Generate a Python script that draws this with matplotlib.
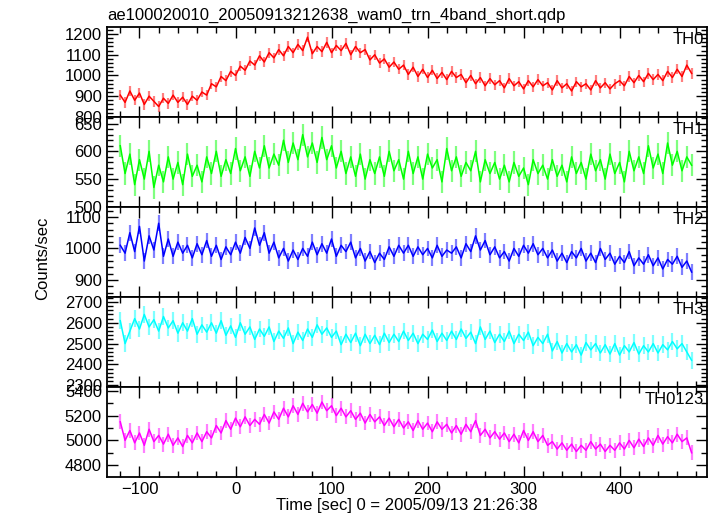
import numpy as np
import matplotlib
matplotlib.use("Agg")
import matplotlib.pyplot as plt
from matplotlib.ticker import MultipleLocator

plt.rcParams['font.family'] = ['Liberation Sans', 'DejaVu Sans']

title = "ae100020010_20050913212638_wam0_trn_4band_short.qdp"
xlabel = "Time [sec] 0 = 2005/09/13 21:26:38"
ylabel = "Counts/sec"

t_start = -120
t_step = 5

bands = ["TH0", "TH1", "TH2", "TH3", "TH0123"]
colors = ["#ff0000", "#00ff00", "#0000ff", "#00ffff", "#ff00ff"]
errors = [25, 20, 25, 40, 60]

th0 = [905, 870, 925, 880, 915, 860, 900, 875, 850, 890,
       865, 905, 870, 895, 860, 900, 880, 920, 905, 960,
       945, 995, 975, 1020, 1000, 1045, 1025, 1070, 1050, 1095,
       1065, 1110, 1085, 1125, 1095, 1140, 1110, 1150, 1120, 1185,
       1105, 1140, 1115, 1160, 1110, 1145, 1120, 1155, 1100, 1140,
       1110, 1125, 1075, 1100, 1060, 1080, 1040, 1065, 1030, 1050,
       1005, 1040, 995, 1030, 990, 1025, 985, 1015, 980, 1020,
       990, 1005, 965, 1000, 960, 990, 950, 985, 955, 975,
       940, 985, 950, 970, 935, 975, 945, 980, 950, 965,
       930, 975, 940, 960, 925, 970, 945, 960, 930, 975,
       940, 965, 935, 960, 975, 950, 995, 965, 1000, 970,
       1010, 980, 1005, 975, 1020, 990, 1030, 995, 1050, 1010]

th1 = [610, 560, 595, 540, 585, 550, 600, 535, 575, 545,
       590, 550, 580, 540, 595, 555, 575, 545, 590, 560,
       600, 555, 585, 560, 605, 565, 590, 555, 600, 570,
       610, 570, 595, 575, 620, 580, 615, 585, 630, 590,
       615, 580, 625, 585, 610, 570, 600, 560, 590, 555,
       595, 550, 585, 560, 590, 555, 600, 565, 585, 550,
       600, 560, 590, 550, 595, 570, 585, 545, 605, 565,
       590, 555, 580, 565, 600, 545, 585, 560, 580, 550,
       575, 545, 580, 555, 570, 540, 585, 560, 575, 550,
       585, 555, 575, 545, 590, 560, 580, 550, 595, 565,
       585, 550, 595, 560, 580, 545, 600, 565, 590, 560,
       610, 570, 595, 560, 615, 575, 600, 565, 590, 575]

th2 = [1010, 985, 1050, 990, 1070, 960, 1040, 995, 1080, 975,
       1030, 975, 1020, 985, 1010, 970, 1015, 980, 1025, 975,
       1010, 965, 1005, 980, 1020, 985, 1035, 1000, 1065, 1010,
       1050, 985, 1020, 970, 1000, 960, 995, 965, 1000, 975,
       1020, 980, 1015, 985, 1030, 975, 1010, 990, 1020, 970,
       1000, 960, 990, 955, 985, 965, 1005, 975, 1010, 985,
       1010, 975, 1005, 980, 1000, 970, 1010, 975, 995, 985,
       1005, 970, 1015, 990, 1040, 995, 1025, 980, 1005, 970,
       990, 960, 1000, 975, 1010, 985, 1015, 980, 1000, 970,
       995, 960, 985, 955, 990, 970, 1000, 960, 985, 955,
       1000, 965, 985, 950, 975, 955, 990, 945, 970, 950,
       980, 945, 970, 935, 965, 950, 975, 940, 960, 925]

th3 = [2610, 2500, 2560, 2620, 2570, 2640, 2580, 2615, 2560, 2630,
       2575, 2610, 2550, 2600, 2560, 2620, 2545, 2590, 2555, 2600,
       2550, 2610, 2540, 2585, 2530, 2600, 2545, 2580, 2520, 2570,
       2535, 2580, 2510, 2560, 2525, 2575, 2500, 2555, 2515, 2570,
       2530, 2590, 2545, 2575, 2530, 2560, 2495, 2545, 2505, 2550,
       2490, 2545, 2500, 2540, 2495, 2550, 2505, 2545, 2510, 2560,
       2515, 2550, 2500, 2545, 2520, 2565, 2510, 2550, 2515, 2560,
       2520, 2570, 2525, 2555, 2500, 2580, 2520, 2560, 2505, 2545,
       2510, 2560, 2500, 2545, 2515, 2555, 2490, 2530, 2500, 2545,
       2465, 2510, 2455, 2500, 2460, 2495, 2445, 2505, 2470, 2500,
       2455, 2495, 2450, 2500, 2445, 2490, 2460, 2505, 2450, 2490,
       2460, 2500, 2455, 2495, 2470, 2510, 2475, 2500, 2460, 2420]

th0123 = [5150, 5000, 5080, 4980, 5060, 4960, 5090, 4990, 5040, 4970,
          5050, 4960, 5020, 4950, 5040, 4980, 5060, 4990, 5070, 5020,
          5120, 5060, 5160, 5090, 5180, 5110, 5190, 5120, 5170, 5130,
          5210, 5140, 5230, 5170, 5260, 5190, 5280, 5210, 5300, 5230,
          5290, 5220, 5310, 5240, 5280, 5200, 5260, 5190, 5240, 5170,
          5220, 5140, 5210, 5150, 5190, 5120, 5180, 5110, 5170, 5100,
          5150, 5080, 5160, 5090, 5140, 5070, 5150, 5090, 5130, 5060,
          5120, 5050, 5130, 5070, 5160, 5040, 5090, 5020, 5070, 5010,
          5060, 4990, 5050, 4980, 5080, 5000, 5070, 4990, 5040, 4960,
          4990, 4930, 4980, 4920, 4970, 4910, 4960, 4920, 4990, 4930,
          4970, 4910, 4960, 4920, 4980, 4930, 5000, 4940, 5010, 4950,
          5020, 4960, 5040, 4970, 5030, 4980, 5050, 4990, 5020, 4900]

series = [th0, th1, th2, th3, th0123]

ylims = [(800, 1235), (500, 662), (846, 1132), (2292, 2724), (4704, 5432)]
ymajor = [100, 50, 100, 100, 200]
yminor = [20, 10, 20, 20, 100]

fig, axes = plt.subplots(5, 1, sharex=True, figsize=(7.17, 5.16), dpi=100)
fig.subplots_adjust(left=0.149, right=0.986, top=0.948, bottom=0.0756, hspace=0)

for ax, vals, col, err, name, yl, ymj, ymn in zip(axes, series, colors, errors, bands,
                                                   ylims, ymajor, yminor):
    vals = np.array(vals)
    t = t_start + t_step * np.arange(len(vals))
    ax.errorbar(t, vals, yerr=err, fmt='none', ecolor=col, alpha=0.5, elinewidth=1.6)
    ax.plot(t, vals, color=col, lw=1.1)
    ax.set_ylim(*yl)
    ax.set_xlim(-134, 491)
    ax.yaxis.set_major_locator(MultipleLocator(ymj))
    ax.yaxis.set_minor_locator(MultipleLocator(ymn))
    ax.xaxis.set_major_locator(MultipleLocator(100))
    ax.xaxis.set_minor_locator(MultipleLocator(20))
    ax.tick_params(which='both', direction='in', top=True, right=True, labelsize=12, width=1.0)
    ax.tick_params(which='major', length=8)
    ax.tick_params(which='minor', length=4)
    for s in ax.spines.values():
        s.set_linewidth(1.3)
    ax.text(0.995, 0.94, name, transform=ax.transAxes, ha='right', va='top', fontsize=12)

axes[-1].set_xlabel(xlabel, fontsize=12, labelpad=1)
fig.text(0.06, 0.5, ylabel, rotation=90, ha='center', va='center', fontsize=12)
axes[0].set_title(title, loc='left', fontsize=12, pad=5)

fig.savefig("out.png", dpi=100)
